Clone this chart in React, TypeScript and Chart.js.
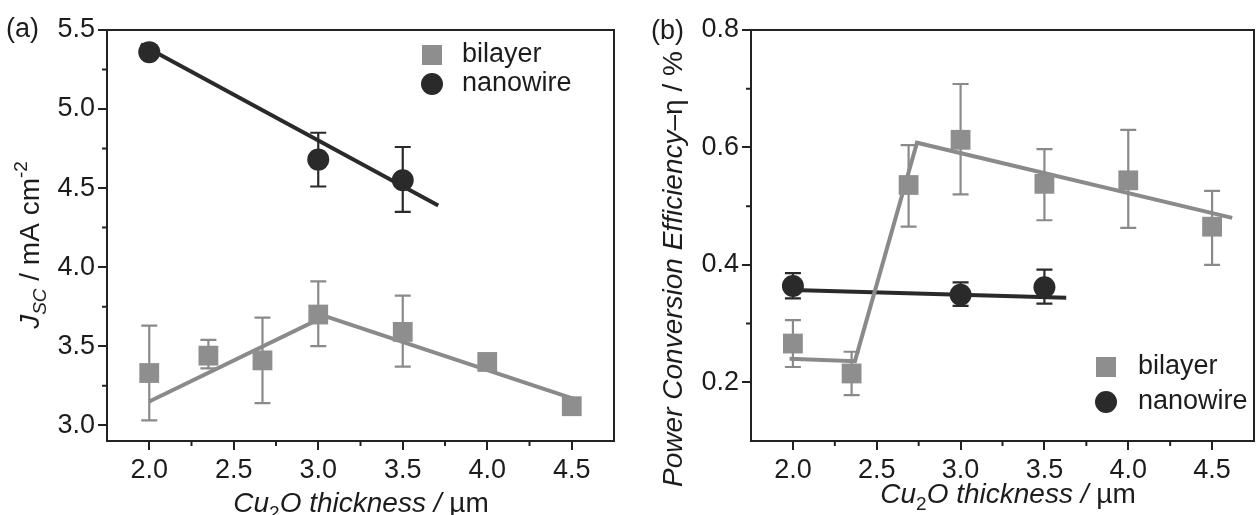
import React, { useEffect, useRef } from 'react';
import { Chart, registerables } from 'chart.js';

Chart.register(...registerables);

const FONT = '"Liberation Sans", Arial, Helvetica, sans-serif';
const TEXT = '#1c1c1c';
const AXIS = '#222222';
const GRAY = '#8e8e8e';
const GRAY_LINE = '#8a8a8a';
const DARK = '#2a2a2a';

// ---------- shared ticks ----------
const X_TICKS = [2.0, 2.5, 3.0, 3.5, 4.0, 4.5];
const X_MINOR = [2.25, 2.75, 3.25, 3.75, 4.25];

// ---------- panel (a): Jsc ----------
const A_Y_TICKS = [3.0, 3.5, 4.0, 4.5, 5.0, 5.5];
const A_Y_MINOR = [3.25, 3.75, 4.25, 4.75, 5.25];

const A_BILAYER_X = [2.0, 2.35, 2.67, 3.0, 3.5, 4.0, 4.5];
const A_BILAYER_Y = [3.33, 3.44, 3.41, 3.70, 3.59, 3.40, 3.12];
const A_BILAYER_HI = [3.63, 3.54, 3.68, 3.91, 3.82, null, null];
const A_BILAYER_LO = [3.03, 3.36, 3.14, 3.50, 3.37, null, null];
const A_BILAYER_FIT_X = [2.0, 3.04, 4.53];
const A_BILAYER_FIT_Y = [3.15, 3.69, 3.16];

const A_NANOWIRE_X = [2.0, 3.0, 3.5];
const A_NANOWIRE_Y = [5.36, 4.68, 4.55];
const A_NANOWIRE_HI = [null, 4.85, 4.76];
const A_NANOWIRE_LO = [null, 4.51, 4.35];
const A_NANOWIRE_FIT_X = [1.95, 3.71];
const A_NANOWIRE_FIT_Y = [5.41, 4.39];

// ---------- panel (b): efficiency ----------
const B_Y_TICKS = [0.2, 0.4, 0.6, 0.8];
const B_Y_MINOR = [0.3, 0.5, 0.7];

const B_BILAYER_X = [2.0, 2.35, 2.69, 3.0, 3.5, 4.0, 4.5];
const B_BILAYER_Y = [0.266, 0.215, 0.536, 0.613, 0.538, 0.544, 0.465];
const B_BILAYER_HI = [0.306, 0.252, 0.604, 0.708, 0.597, 0.630, 0.526];
const B_BILAYER_LO = [0.226, 0.178, 0.465, 0.520, 0.476, 0.463, 0.400];
const B_BILAYER_FIT_X = [1.98, 2.37, 2.74, 4.62];
const B_BILAYER_FIT_Y = [0.240, 0.236, 0.608, 0.480];

const B_NANOWIRE_X = [2.0, 3.0, 3.5];
const B_NANOWIRE_Y = [0.364, 0.349, 0.362];
const B_NANOWIRE_HI = [0.386, 0.370, 0.392];
const B_NANOWIRE_LO = [0.343, 0.330, 0.334];
const B_NANOWIRE_FIT_X = [2.0, 3.63];
const B_NANOWIRE_FIT_Y = [0.357, 0.344];

const SERIES_NAMES = ['bilayer', 'nanowire'];

type Seg = { t: string; italic?: boolean; size?: number; dy?: number };

type Series = {
  xs: number[]; ys: number[]; hi: (number | null)[]; lo: (number | null)[];
  style: 'rect' | 'circle'; fitX: number[]; fitY: number[];
};

type PanelCfg = {
  left: number; width: number; height: number;
  area: { left: number; top: number; right: number; bottom: number };
  xMin: number; xMax: number; yMin: number; yMax: number;
  yTicks: number[]; yMinor: number[];
  series: Series[];
  legend: { x: number; y: number; gap: number; textX: number };
  label: { text: string; x: number; y: number };
  yTitle: { segs: Seg[]; x: number; y: number; size: number };
  xTitle: { segs: Seg[]; x: number; y: number; size: number };
};

function pts(xs: number[], ys: number[]) {
  return xs.map((x, i) => ({ x, y: ys[i] }));
}

function drawRich(ctx: CanvasRenderingContext2D, segs: Seg[], x: number, y: number, rot: number, base: number) {
  ctx.save();
  ctx.translate(x, y);
  ctx.rotate(rot);
  const fontOf = (s: Seg) => `${s.italic ? 'italic ' : ''}${s.size ?? base}px ${FONT}`;
  let total = 0;
  for (const s of segs) {
    ctx.font = fontOf(s);
    total += ctx.measureText(s.t).width;
  }
  let cx = -total / 2;
  ctx.textAlign = 'left';
  ctx.textBaseline = 'alphabetic';
  ctx.fillStyle = TEXT;
  for (const s of segs) {
    ctx.font = fontOf(s);
    ctx.fillText(s.t, cx, s.dy ?? 0);
    cx += ctx.measureText(s.t).width;
  }
  ctx.restore();
}

function makePlugin(cfg: PanelCfg) {
  return {
    id: 'panelDecor',
    beforeDatasetsDraw(chart: any) {
      const ctx: CanvasRenderingContext2D = chart.ctx;
      const xs = chart.scales.x;
      const ys = chart.scales.y;
      ctx.save();
      cfg.series.forEach((s) => {
        ctx.strokeStyle = s.style === 'rect' ? GRAY_LINE : DARK;
        ctx.lineWidth = 2.2;
        s.xs.forEach((xv, i) => {
          const h = s.hi[i];
          const l = s.lo[i];
          if (h == null || l == null) return;
          const px = xs.getPixelForValue(xv);
          const ph = ys.getPixelForValue(h);
          const pl = ys.getPixelForValue(l);
          ctx.beginPath();
          ctx.moveTo(px, ph); ctx.lineTo(px, pl);
          ctx.moveTo(px - 8, ph); ctx.lineTo(px + 8, ph);
          ctx.moveTo(px - 8, pl); ctx.lineTo(px + 8, pl);
          ctx.stroke();
        });
      });
      ctx.restore();
    },
    afterDraw(chart: any) {
      const ctx: CanvasRenderingContext2D = chart.ctx;
      const a = chart.chartArea;
      const xs = chart.scales.x;
      const ys = chart.scales.y;
      ctx.save();
      // top and right frame
      ctx.strokeStyle = AXIS;
      ctx.lineWidth = 2;
      ctx.beginPath();
      ctx.moveTo(a.left - 1, a.top);
      ctx.lineTo(a.right, a.top);
      ctx.lineTo(a.right, a.bottom);
      ctx.stroke();
      // minor ticks
      ctx.beginPath();
      X_MINOR.forEach((v) => {
        const px = xs.getPixelForValue(v);
        ctx.moveTo(px, a.bottom);
        ctx.lineTo(px, a.bottom + 5);
      });
      cfg.yMinor.forEach((v) => {
        const py = ys.getPixelForValue(v);
        ctx.moveTo(a.left, py);
        ctx.lineTo(a.left - 5, py);
      });
      ctx.stroke();
      // legend
      const L = cfg.legend;
      ctx.fillStyle = GRAY;
      ctx.fillRect(L.x - 10, L.y - 10, 20, 20);
      ctx.fillStyle = DARK;
      ctx.beginPath();
      ctx.arc(L.x, L.y + L.gap, 11, 0, Math.PI * 2);
      ctx.fill();
      ctx.fillStyle = TEXT;
      ctx.font = `27px ${FONT}`;
      ctx.textAlign = 'left';
      ctx.textBaseline = 'middle';
      ctx.fillText(SERIES_NAMES[0], L.textX, L.y);
      ctx.fillText(SERIES_NAMES[1], L.textX, L.y + L.gap);
      // panel label
      ctx.fillText(cfg.label.text, cfg.label.x, cfg.label.y);
      ctx.restore();
      // titles
      drawRich(ctx, cfg.yTitle.segs, cfg.yTitle.x, cfg.yTitle.y, -Math.PI / 2, cfg.yTitle.size);
      drawRich(ctx, cfg.xTitle.segs, cfg.xTitle.x, cfg.xTitle.y, 0, cfg.xTitle.size);
    },
  };
}

function buildConfig(cfg: PanelCfg): any {
  const datasets: any[] = [];
  cfg.series.forEach((s, i) => {
    const color = s.style === 'rect' ? GRAY : DARK;
    datasets.push({
      label: SERIES_NAMES[i],
      data: pts(s.xs, s.ys),
      pointStyle: s.style,
      pointRadius: s.style === 'rect' ? 14 : 11,
      backgroundColor: color,
      borderColor: color,
      borderWidth: 0,
      showLine: false,
      order: 0,
    });
    datasets.push({
      label: SERIES_NAMES[i] + ' fit',
      data: pts(s.fitX, s.fitY),
      showLine: true,
      pointRadius: 0,
      borderColor: s.style === 'rect' ? GRAY_LINE : DARK,
      borderWidth: 4,
      fill: false,
      order: 1,
    });
  });
  const tickFont = { family: FONT, size: 27 };
  return {
    type: 'scatter',
    data: { datasets },
    options: {
      responsive: false,
      animation: false,
      devicePixelRatio: 1,
      layout: {
        padding: { left: 0, top: cfg.area.top, right: cfg.width - cfg.area.right, bottom: 0 },
      },
      plugins: { legend: { display: false }, tooltip: { enabled: false } },
      scales: {
        x: {
          type: 'linear',
          min: cfg.xMin,
          max: cfg.xMax,
          afterBuildTicks: (sc: any) => { sc.ticks = X_TICKS.map((v) => ({ value: v })); },
          afterFit: (sc: any) => { sc.height = cfg.height - cfg.area.bottom; },
          ticks: { color: TEXT, font: tickFont, padding: 4, maxRotation: 0, callback: (v: any) => Number(v).toFixed(1) },
          grid: { display: true, drawOnChartArea: false, drawTicks: true, tickLength: 9, color: AXIS, lineWidth: 2 },
          border: { display: true, color: AXIS, width: 2 },
        },
        y: {
          type: 'linear',
          min: cfg.yMin,
          max: cfg.yMax,
          afterBuildTicks: (sc: any) => { sc.ticks = cfg.yTicks.map((v) => ({ value: v })); },
          afterFit: (sc: any) => { sc.width = cfg.area.left; },
          ticks: { color: TEXT, font: tickFont, padding: 3, callback: (v: any) => Number(v).toFixed(1) },
          grid: { display: true, drawOnChartArea: false, drawTicks: true, tickLength: 9, color: AXIS, lineWidth: 2 },
          border: { display: true, color: AXIS, width: 2 },
        },
      },
    },
    plugins: [makePlugin(cfg)],
  };
}

const X_TITLE_SEGS: Seg[] = [
  { t: 'Cu', italic: true },
  { t: '2', size: 19, dy: 7 },
  { t: 'O thickness / ', italic: true },
  { t: 'µm' },
];

const PANEL_A: PanelCfg = {
  left: 0, width: 628, height: 515,
  area: { left: 107, top: 30, right: 619, bottom: 441 },
  xMin: 1.75, xMax: 4.75, yMin: 2.9, yMax: 5.5,
  yTicks: A_Y_TICKS, yMinor: A_Y_MINOR,
  series: [
    { xs: A_BILAYER_X, ys: A_BILAYER_Y, hi: A_BILAYER_HI, lo: A_BILAYER_LO, style: 'rect', fitX: A_BILAYER_FIT_X, fitY: A_BILAYER_FIT_Y },
    { xs: A_NANOWIRE_X, ys: A_NANOWIRE_Y, hi: A_NANOWIRE_HI, lo: A_NANOWIRE_LO, style: 'circle', fitX: A_NANOWIRE_FIT_X, fitY: A_NANOWIRE_FIT_Y },
  ],
  legend: { x: 432, y: 55, gap: 29, textX: 462 },
  label: { text: '(a)', x: 6, y: 30 },
  yTitle: {
    segs: [
      { t: 'J', italic: true },
      { t: 'SC', italic: true, size: 19, dy: 7 },
      { t: ' / mA cm' },
      { t: '-2', size: 19, dy: -12 },
    ],
    x: 39, y: 245, size: 28,
  },
  xTitle: { segs: X_TITLE_SEGS, x: 361, y: 512, size: 28 },
};

const PANEL_B: PanelCfg = {
  left: 628, width: 640, height: 515,
  area: { left: 123, top: 30, right: 635, bottom: 441 },
  xMin: 1.75, xMax: 4.75, yMin: 0.1, yMax: 0.8,
  yTicks: B_Y_TICKS, yMinor: B_Y_MINOR,
  series: [
    { xs: B_BILAYER_X, ys: B_BILAYER_Y, hi: B_BILAYER_HI, lo: B_BILAYER_LO, style: 'rect', fitX: B_BILAYER_FIT_X, fitY: B_BILAYER_FIT_Y },
    { xs: B_NANOWIRE_X, ys: B_NANOWIRE_Y, hi: B_NANOWIRE_HI, lo: B_NANOWIRE_LO, style: 'circle', fitX: B_NANOWIRE_FIT_X, fitY: B_NANOWIRE_FIT_Y },
  ],
  legend: { x: 478, y: 367, gap: 35, textX: 510 },
  label: { text: '(b)', x: 23, y: 32 },
  yTitle: {
    segs: [
      { t: 'Power Conversion Efficiency', italic: true },
      { t: '–η / %' },
    ],
    x: 54, y: 269, size: 28,
  },
  xTitle: { segs: X_TITLE_SEGS, x: 380, y: 503, size: 28 },
};

function Panel({ cfg }: { cfg: PanelCfg }) {
  const ref = useRef<HTMLCanvasElement | null>(null);
  useEffect(() => {
    const chart = new Chart(ref.current as HTMLCanvasElement, buildConfig(cfg));
    return () => chart.destroy();
  }, [cfg]);
  return (
    <canvas
      ref={ref}
      width={cfg.width}
      height={cfg.height}
      style={{ position: 'absolute', left: cfg.left, top: 0, width: cfg.width, height: cfg.height }}
    />
  );
}

export default function App() {
  return (
    <div
      style={{
        position: 'fixed', left: 0, top: 0, width: 1256, height: 515,
        overflow: 'hidden', background: '#ffffff',
      }}
    >
      <Panel cfg={PANEL_A} />
      <Panel cfg={PANEL_B} />
    </div>
  );
}
